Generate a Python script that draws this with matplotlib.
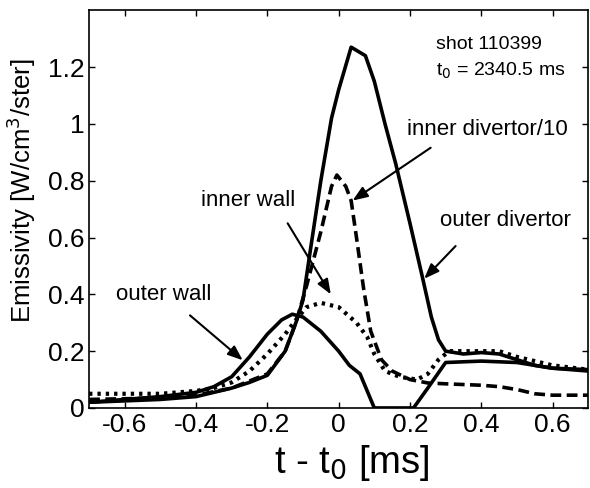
import numpy as np
import matplotlib
matplotlib.use("Agg")
import matplotlib.pyplot as plt

plt.rcParams['font.family'] = ['Liberation Sans', 'DejaVu Sans']

# outer divertor (solid, big peak)
t_od = [-0.7, -0.6, -0.5, -0.4, -0.3, -0.25, -0.2, -0.15, -0.12, -0.1, -0.08, -0.05, -0.02, 0.0,
        0.035, 0.075, 0.1, 0.13, 0.16, 0.2, 0.235, 0.26, 0.28, 0.3, 0.35, 0.4, 0.45, 0.5,
        0.55, 0.6, 0.7]
v_od = [0.02, 0.025, 0.03, 0.04, 0.07, 0.09, 0.115, 0.2, 0.3, 0.38, 0.55, 0.8, 1.02, 1.12,
        1.27, 1.24, 1.15, 1.0, 0.86, 0.65, 0.46, 0.32, 0.24, 0.2, 0.19, 0.195, 0.19, 0.17,
        0.15, 0.14, 0.135]

# outer wall (solid)
t_ow = [-0.7, -0.6, -0.5, -0.4, -0.35, -0.3, -0.25, -0.2, -0.16, -0.13, -0.1, -0.05, 0.0,
        0.03, 0.06, 0.08, 0.1, 0.21, 0.25, 0.3, 0.4, 0.5, 0.6, 0.7]
v_ow = [0.02, 0.03, 0.04, 0.055, 0.075, 0.11, 0.18, 0.26, 0.31, 0.33, 0.32, 0.27, 0.2,
        0.15, 0.12, 0.06, 0.0, 0.0, 0.07, 0.16, 0.165, 0.16, 0.14, 0.13]

# inner divertor / 10 (dashed)
t_id = [-0.7, -0.5, -0.4, -0.3, -0.2, -0.15, -0.12, -0.09, -0.05, -0.02, -0.005, 0.02,
        0.035, 0.05, 0.07, 0.09, 0.12, 0.15, 0.2, 0.25, 0.3, 0.4, 0.45, 0.5, 0.55, 0.6, 0.7]
v_id = [0.03, 0.035, 0.045, 0.07, 0.12, 0.2, 0.3, 0.43, 0.62, 0.78, 0.82, 0.78,
        0.73, 0.6, 0.42, 0.27, 0.17, 0.13, 0.1, 0.088, 0.085, 0.08, 0.075, 0.065, 0.05,
        0.045, 0.045]

# inner wall (dotted)
t_iw = [-0.7, -0.6, -0.5, -0.4, -0.35, -0.3, -0.25, -0.2, -0.15, -0.12, -0.09, -0.05, 0.0,
        0.05, 0.08, 0.1, 0.13, 0.17, 0.22, 0.25, 0.28, 0.31, 0.4, 0.45, 0.5, 0.6, 0.7]
v_iw = [0.05, 0.05, 0.05, 0.06, 0.07, 0.09, 0.13, 0.19, 0.26, 0.31, 0.355, 0.37, 0.355,
        0.3, 0.25, 0.19, 0.13, 0.11, 0.1, 0.12, 0.17, 0.2, 0.2, 0.2, 0.18, 0.15, 0.135]

xticks = [-0.6, -0.4, -0.2, 0, 0.2, 0.4, 0.6]
yticks = [0, 0.2, 0.4, 0.6, 0.8, 1, 1.2]

fig = plt.figure(figsize=(5.9, 4.88), dpi=100)
ax = fig.add_axes([0.151, 0.164, 0.846, 0.815])

ax.plot(t_od, v_od, 'k-', lw=2.6)
ax.plot(t_ow, v_ow, 'k-', lw=2.6)
ax.plot(t_id, v_id, 'k--', lw=2.6, dashes=(3, 1.5))
ax.plot(t_iw, v_iw, 'k:', lw=3.0, dashes=(0.8, 1.2))

ax.set_xlim(-0.7, 0.7)
ax.set_ylim(0, 1.4)
ax.set_xticks(xticks)
ax.set_xticklabels([f"{x:g}" for x in xticks])
ax.set_yticks(yticks)
ax.set_yticklabels([f"{y:g}" for y in yticks])
ax.tick_params(direction='in', top=True, right=True, labelsize=19, length=4, width=1)
for s in ax.spines.values():
    s.set_linewidth(1.2)

ax.set_xlabel(r"t - t$_0$ [ms]", fontsize=27.5, labelpad=4)
ax.xaxis.set_label_coords(0.527, -0.088)
ax.set_ylabel(r"Emissivity [W/cm$^3$/ster]", fontsize=18.5, labelpad=3)
ax.yaxis.set_label_coords(-0.102, 0.545)

arr = dict(arrowstyle='-|>,head_length=0.9,head_width=0.35', color='k', lw=1.5,
           shrinkA=0, shrinkB=0)
fs = 16
ax.text(-0.49, 0.40, "outer wall", fontsize=fs, ha='center', va='center')
ax.annotate("", xy=(-0.269, 0.168), xytext=(-0.417, 0.326), arrowprops=arr)
ax.text(-0.255, 0.73, "inner wall", fontsize=fs, ha='center', va='center')
ax.annotate("", xy=(-0.022, 0.40), xytext=(-0.143, 0.65), arrowprops=arr)
ax.text(0.417, 0.98, "inner divertor/10", fontsize=fs, ha='center', va='center')
ax.annotate("", xy=(0.039, 0.73), xytext=(0.258, 0.916), arrowprops=arr)
ax.text(0.467, 0.66, "outer divertor", fontsize=fs, ha='center', va='center')
ax.annotate("", xy=(0.24, 0.455), xytext=(0.328, 0.57), arrowprops=arr)

ax.text(0.272, 1.28, "shot 110399", fontsize=14, ha='left', va='center')
ax.text(0.272, 1.186, r"t$_0$ = 2340.5 ms", fontsize=14, ha='left', va='center')

fig.savefig("out.png", dpi=100)
